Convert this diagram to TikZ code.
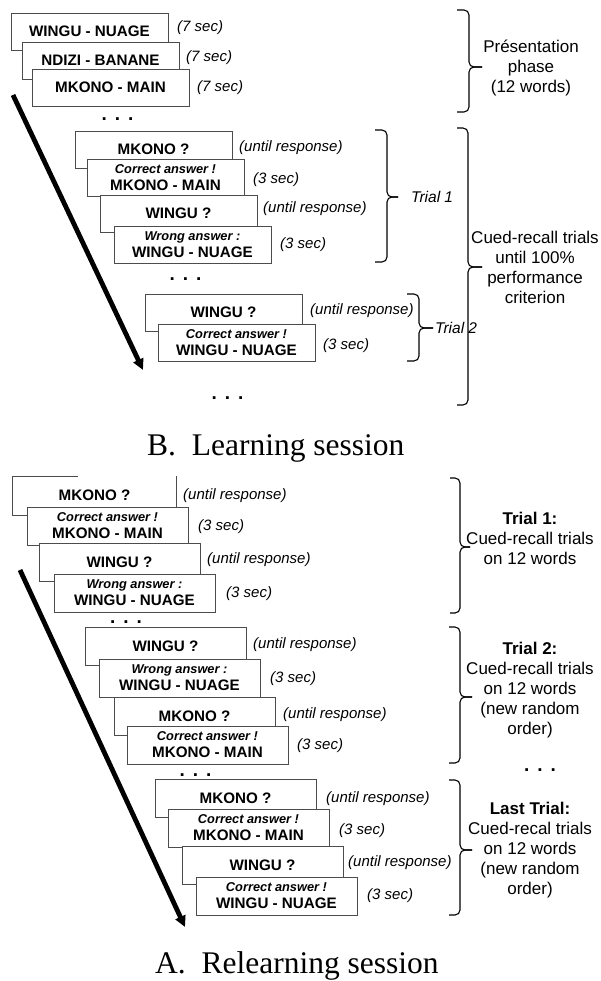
\documentclass[tikz,border=0pt]{standalone}
\usepackage{fontspec}
\setmainfont{Liberation Serif}
\setsansfont{Liberation Sans}
\usetikzlibrary{arrows.meta,calc}

\newcommand{\fbline}[1]{{\fontsize{12.8}{14}\selectfont\itshape #1}}

\tikzset{
  boxline/.style={draw=black!70, line width=0.7pt},
  card/.style={boxline, fill=white, minimum width=157pt, minimum height=37pt,
    inner sep=0pt, align=center, font=\sffamily\bfseries\fontsize{15.2}{17}\selectfont},
  cardA/.style={card, minimum width=161pt, minimum height=38pt},
  timing/.style={anchor=west, inner sep=0pt, font=\sffamily\itshape\fontsize{15}{16}\selectfont},
  trial/.style={anchor=west, inner sep=0pt, font=\sffamily\itshape\fontsize{15.5}{18}\selectfont},
  side/.style={align=center, inner sep=0pt, font=\sffamily\fontsize{17}{20}\selectfont},
  dots/.style={anchor=base, inner sep=0pt, font=\sffamily\bfseries\fontsize{19}{19}\selectfont},
  title/.style={anchor=base west, inner sep=0pt, font=\fontsize{31.5}{34}\selectfont},
  brace/.style={draw=black, line width=1.1pt, rounded corners=5pt},
  bigarrow/.style={line width=4.8pt, -{Triangle[length=11pt,width=10.5pt]}}
}

\begin{document}
\begin{tikzpicture}[x=1pt,y=-1pt]
\useasboundingbox (0,0) rectangle (600,981);

% B. Learning session -- presentation phase
\node[card] (p1) at (89.5,31.5) {WINGU - NUAGE};
\node[card] (p2) at (100.5,60.5) {NDIZI - BANANE};
\node[card] (p3) at (110.5,87.5) {MKONO - MAIN};
\node[timing] (tp1) at (177,28) {(7 sec)};
\node[timing] (tp2) at (186,58) {(7 sec)};
\node[timing] (tp3) at (197,88) {(7 sec)};
\node[dots] (d1) at (117.5,121) {.\hspace{8pt}.\hspace{8pt}.};

% trial 1
\node[card] (q1) at (153.5,149.5) {MKONO ?};
\node[card] (a1) at (165.5,177.5) {\fbline{Correct answer !}\\MKONO - MAIN};
\node[card] (q2) at (178.5,213.5) {WINGU ?};
\node[card] (a2) at (192.5,244.5) {\fbline{Wrong answer :}\\WINGU - NUAGE};
\node[timing] (tq1) at (239,148) {(until response)};
\node[timing] (ta1) at (253,180) {(3 sec)};
\node[timing] (tq2) at (263,209) {(until response)};
\node[timing] (ta2) at (280,245) {(3 sec)};
\node[dots] (d2) at (185.5,280) {.\hspace{8pt}.\hspace{8pt}.};

% trial 2
\node[card] (q3) at (223.5,312.5) {WINGU ?};
\node[card] (a3) at (236.5,342.5) {\fbline{Correct answer !}\\WINGU - NUAGE};
\node[timing] (tq3) at (310,311) {(until response)};
\node[timing] (ta3) at (323,346) {(3 sec)};
\node[dots] (d3) at (227.5,399) {.\hspace{8pt}.\hspace{8pt}.};

\coordinate (arrB0) at (13,95);
\coordinate (arrB1) at (143,370);
\draw[bigarrow] (arrB0) -- (arrB1);

% braces, x0/x1/tip/top/mid/bottom
\foreach \xa/\xb/\xc/\ya/\ym/\yb in {457/469/482/10/67/112, 375/387/398/130/197/262,
    457/468/482/128/267/405, 407/419/433/294/328/361,
    450/460/470/478/547/613, 449/460/472/627/697/763, 449/460/472/780/850/915}{
  \draw[brace] (\xa,\ya) -- (\xb,\ya) -- (\xb,\ym) -- (\xc,\ym);
  \draw[brace] (\xc,\ym) -- (\xb,\ym) -- (\xb,\yb) -- (\xa,\yb);
}
\node[side] (sP) at (531,68) {Présentation\\phase\\(12 words)};
\node[trial] (sT1) at (411,197) {Trial 1};
\node[side] (sC) at (535,267.5) {Cued-recall trials\\until 100\%\\performance\\criterion};
\node[trial] (sT2) at (435,328) {Trial 2};

\node[title] (tB) at (147,455) {B.\hspace{0.5em}Learning session};

% A. Relearning session -- trial 1
\node[cardA, draw=none, fill=none, minimum width=163pt] (r1) at (94.5,495.5) {MKONO ?};
\draw[boxline] ($(r1.north west)+(65,0)$) -- (r1.north west) -- (r1.south west)
  -- (r1.south east) -- (r1.north east);
\node[cardA] (r2) at (107.5,526) {\fbline{Correct answer !}\\MKONO - MAIN};
\node[cardA] (r3) at (119.5,562) {WINGU ?};
\node[cardA] (r4) at (134.5,593) {\fbline{Wrong answer :}\\WINGU - NUAGE};
\node[timing] (tr1) at (183,496) {(until response)};
\node[timing] (tr2) at (198,527) {(3 sec)};
\node[timing] (tr3) at (207,560) {(until response)};
\node[timing] (tr4) at (226,594) {(3 sec)};
\node[dots] (d4) at (126,623) {.\hspace{8pt}.\hspace{8pt}.};

% trial 2
\node[cardA] (r5) at (165.5,646) {WINGU ?};
\node[cardA] (r6) at (179.5,678) {\fbline{Wrong answer :}\\WINGU - NUAGE};
\node[cardA] (r7) at (194.5,716) {MKONO ?};
\node[cardA] (r8) at (207.5,745) {\fbline{Correct answer !}\\MKONO - MAIN};
\node[timing] (tr5) at (253,645) {(until response)};
\node[timing] (tr6) at (270,679) {(3 sec)};
\node[timing] (tr7) at (283,715) {(until response)};
\node[timing] (tr8) at (297,746) {(3 sec)};
\node[dots] (d5) at (195.5,776) {.\hspace{8pt}.\hspace{8pt}.};

% last trial
\node[cardA] (r9) at (235.5,798) {MKONO ?};
\node[cardA] (r10) at (248.5,828) {\fbline{Correct answer !}\\MKONO - MAIN};
\node[cardA] (r11) at (262.5,865) {WINGU ?};
\node[cardA] (r12) at (276.5,896) {\fbline{Correct answer !}\\WINGU - NUAGE};
\node[timing] (tr9) at (326,799) {(until response)};
\node[timing] (tr10) at (339,831) {(3 sec)};
\node[timing] (tr11) at (348,863) {(until response)};
\node[timing] (tr12) at (367,896) {(3 sec)};

\coordinate (arrA0) at (20,570);
\coordinate (arrA1) at (185,927);
\draw[bigarrow] (arrA0) -- (arrA1);

\node[side] (sA1) at (530,538) {\textbf{Trial 1:}\\Cued-recall trials\\on 12 words};
\node[side] (sA2) at (530,690) {\textbf{Trial 2:}\\Cued-recall trials\\on 12 words\\(new random\\order)};
\node[dots] (d6) at (540,771) {.\hspace{8pt}.\hspace{8pt}.};
\node[side] (sA3) at (530,850) {\textbf{Last Trial:}\\Cued-recal trials\\on 12 words\\(new random\\order)};

\node[title] (tA) at (155,973) {A.\hspace{0.5em}Relearning session};
\end{tikzpicture}
\end{document}
